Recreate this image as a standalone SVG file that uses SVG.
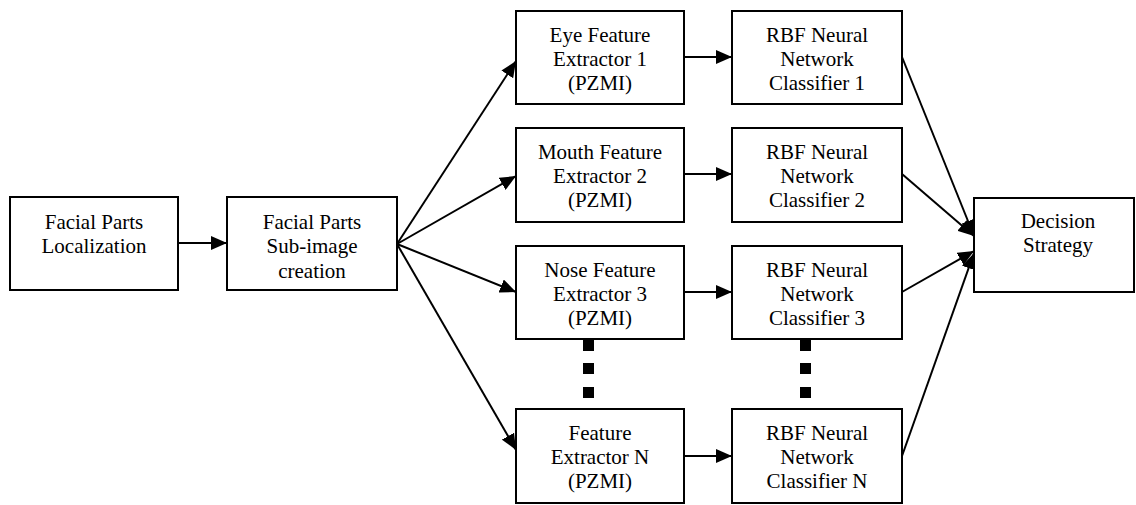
<svg xmlns="http://www.w3.org/2000/svg" width="1136" height="505" viewBox="0 0 1136 505">
<style>
.box{fill:#fff;stroke:#000;stroke-width:2}
.t{font-family:"Liberation Serif","Times New Roman",serif;font-size:21px;fill:#000;text-anchor:middle}
.c{stroke:#000;stroke-width:2;fill:none;marker-end:url(#ah)}
.dot{fill:#000}
</style>
<defs>
<marker id="ah" markerUnits="userSpaceOnUse" markerWidth="16" markerHeight="14" refX="16" refY="7" orient="auto">
<path d="M0,0 L16,7 L0,14 z" fill="#000"/>
</marker>
</defs>
<rect width="1136" height="505" fill="#fff"/>
<g id="connectors">
<line class="c" x1="178" y1="243" x2="227" y2="243"/>
<line class="c" x1="397" y1="244" x2="516" y2="61"/>
<line class="c" x1="397" y1="244" x2="516" y2="176"/>
<line class="c" x1="397" y1="244" x2="516" y2="292"/>
<line class="c" x1="397" y1="244" x2="516" y2="450"/>
<line class="c" x1="684" y1="57" x2="732" y2="57"/>
<line class="c" x1="684" y1="174" x2="732" y2="174"/>
<line class="c" x1="684" y1="292" x2="732" y2="292"/>
<line class="c" x1="684" y1="456" x2="732" y2="456"/>
<line class="c" x1="902" y1="57" x2="974" y2="236"/>
<line class="c" x1="902" y1="174" x2="974" y2="236"/>
<line class="c" x1="902" y1="292" x2="974" y2="251"/>
<line class="c" x1="902" y1="456" x2="974" y2="253"/>
<rect class="dot" x="583" y="340" width="11" height="11"/>
<rect class="dot" x="583" y="363" width="11" height="11"/>
<rect class="dot" x="583" y="387" width="11" height="11"/>
<rect class="dot" x="800" y="340" width="11" height="11"/>
<rect class="dot" x="800" y="363" width="11" height="11"/>
<rect class="dot" x="800" y="387" width="11" height="11"/>
</g>
<g id="localization">
<rect class="box" x="10" y="197" width="168" height="93"/>
<text class="t" x="94" y="229">Facial Parts</text>
<text class="t" x="94" y="253">Localization</text>
</g>
<g id="subimage">
<rect class="box" x="227" y="197" width="170" height="93"/>
<text class="t" x="312" y="229">Facial Parts</text>
<text class="t" x="312" y="253">Sub-image</text>
<text class="t" x="312" y="278">creation</text>
</g>
<g id="eye">
<rect class="box" x="516" y="11" width="168" height="93"/>
<text class="t" x="600" y="42">Eye Feature</text>
<text class="t" x="600" y="66">Extractor 1</text>
<text class="t" x="600" y="90">(PZMI)</text>
</g>
<g id="mouth">
<rect class="box" x="516" y="128" width="168" height="94"/>
<text class="t" x="600" y="159">Mouth Feature</text>
<text class="t" x="600" y="183">Extractor 2</text>
<text class="t" x="600" y="207">(PZMI)</text>
</g>
<g id="nose">
<rect class="box" x="516" y="246" width="168" height="93"/>
<text class="t" x="600" y="277">Nose Feature</text>
<text class="t" x="600" y="301">Extractor 3</text>
<text class="t" x="600" y="325">(PZMI)</text>
</g>
<g id="featureN">
<rect class="box" x="516" y="409" width="168" height="94"/>
<text class="t" x="600" y="440">Feature</text>
<text class="t" x="600" y="464">Extractor N</text>
<text class="t" x="600" y="488">(PZMI)</text>
</g>
<g id="rbf1">
<rect class="box" x="732" y="11" width="170" height="93"/>
<text class="t" x="817" y="42">RBF Neural</text>
<text class="t" x="817" y="66">Network</text>
<text class="t" x="817" y="90">Classifier 1</text>
</g>
<g id="rbf2">
<rect class="box" x="732" y="128" width="170" height="94"/>
<text class="t" x="817" y="159">RBF Neural</text>
<text class="t" x="817" y="183">Network</text>
<text class="t" x="817" y="207">Classifier 2</text>
</g>
<g id="rbf3">
<rect class="box" x="732" y="246" width="170" height="93"/>
<text class="t" x="817" y="277">RBF Neural</text>
<text class="t" x="817" y="301">Network</text>
<text class="t" x="817" y="325">Classifier 3</text>
</g>
<g id="rbfN">
<rect class="box" x="732" y="409" width="170" height="94"/>
<text class="t" x="817" y="440">RBF Neural</text>
<text class="t" x="817" y="464">Network</text>
<text class="t" x="817" y="488">Classifier N</text>
</g>
<g id="decision">
<rect class="box" x="974" y="198" width="160" height="94"/>
<text class="t" x="1058" y="228">Decision</text>
<text class="t" x="1058" y="252">Strategy</text>
</g>
</svg>
